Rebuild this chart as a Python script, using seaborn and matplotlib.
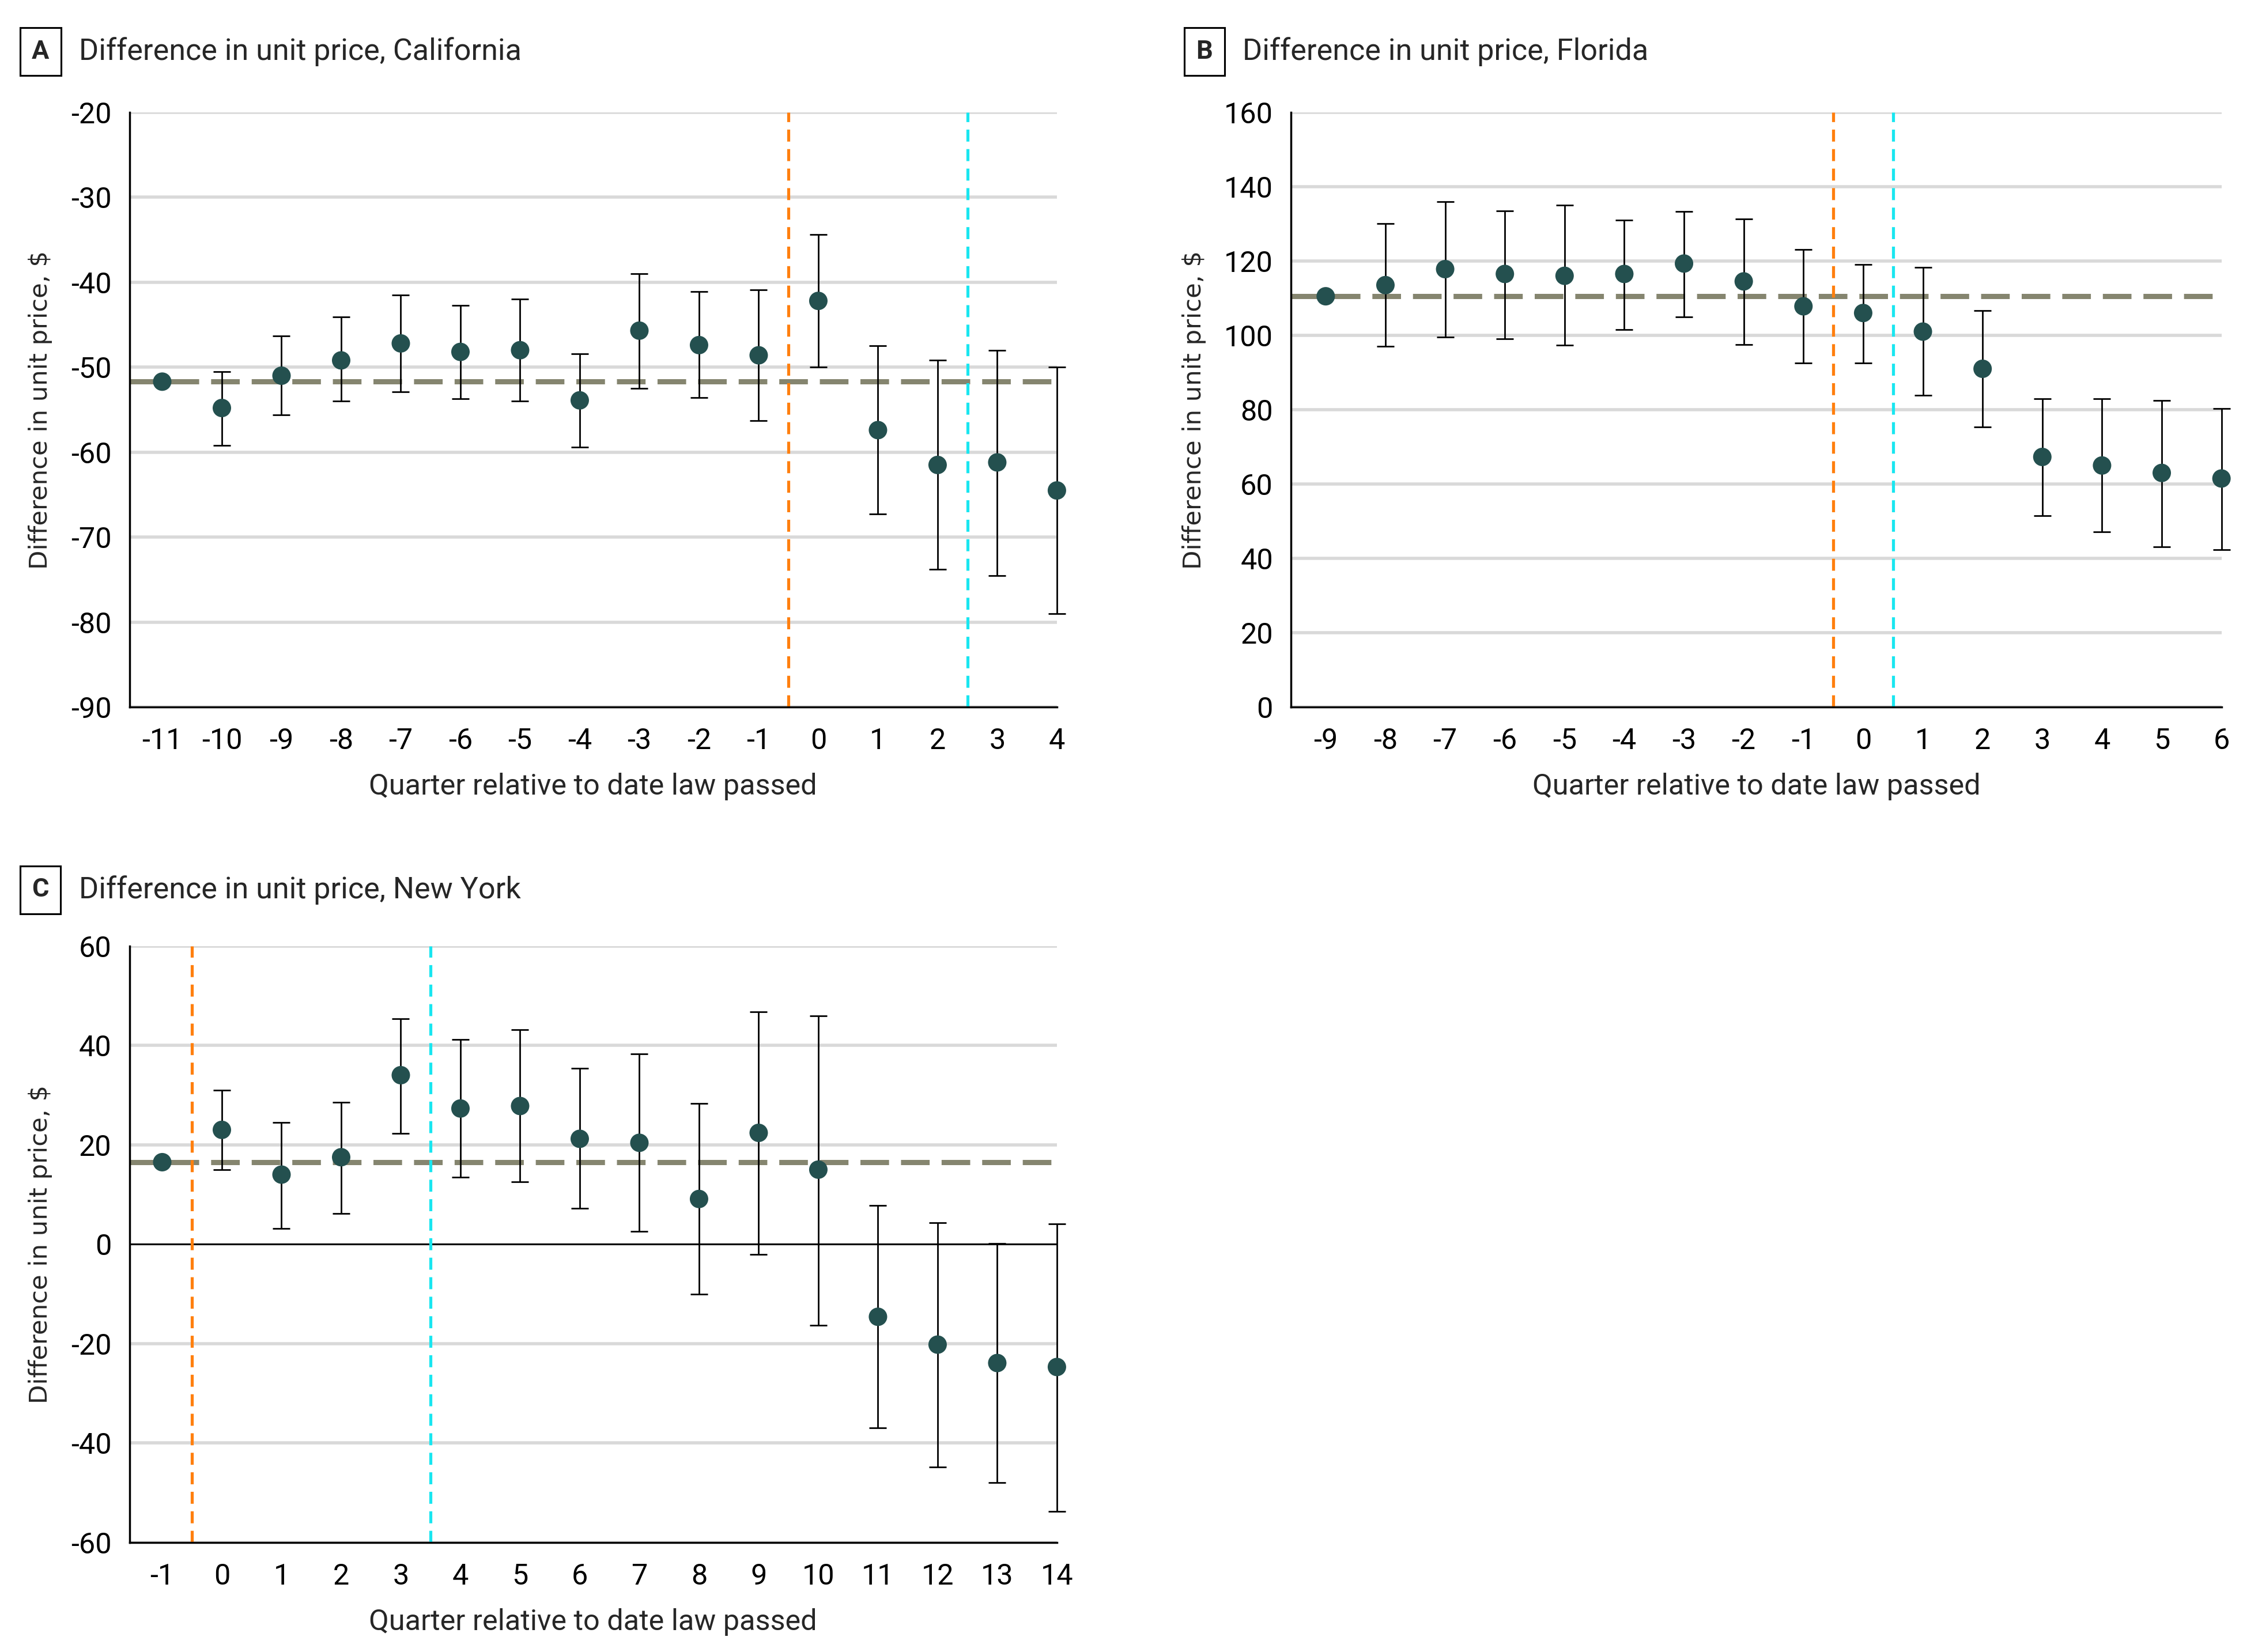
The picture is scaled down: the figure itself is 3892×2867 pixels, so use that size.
"""
Event-study style plots: difference in unit price by quarter relative to law passage.
"""

import numpy as np
import pandas as pd
import matplotlib
matplotlib.use("Agg")
import matplotlib.pyplot as plt
import seaborn as sns

# ---- data ----
ca_quarter = [-11, -10, -9, -8, -7, -6, -5, -4, -3, -2, -1, 0, 1, 2, 3, 4]
ca_estimate = [-51.7, -54.8, -51.0, -49.2, -47.2, -48.2, -48.0, -53.9, -45.7, -47.4, -48.6, -42.2, -57.4, -61.5, -61.2, -64.5]
ca_upper = [np.nan, -50.5, -46.3, -44.1, -41.5, -42.7, -42.0, -48.4, -39.0, -41.1, -40.9, -34.4, -47.5, -49.2, -48.0, -50.0]
ca_lower = [np.nan, -59.2, -55.6, -54.0, -52.9, -53.7, -54.0, -59.4, -52.5, -53.6, -56.3, -50.0, -67.3, -73.8, -74.5, -79.0]
ca_baseline = -51.7

fl_quarter = [-9, -8, -7, -6, -5, -4, -3, -2, -1, 0, 1, 2, 3, 4, 5, 6]
fl_estimate = [110.5, 113.5, 117.8, 116.5, 116.0, 116.5, 119.3, 114.5, 107.8, 106.0, 101.0, 91.0, 67.3, 65.0, 63.0, 61.5]
fl_upper = [np.nan, 130.0, 136.0, 133.5, 135.0, 131.0, 133.3, 131.3, 123.0, 119.0, 118.2, 106.7, 83.0, 83.0, 82.5, 80.3]
fl_lower = [np.nan, 97.0, 99.5, 99.0, 97.3, 101.5, 105.0, 97.5, 92.5, 92.5, 83.8, 75.3, 51.5, 47.2, 43.2, 42.3]
fl_baseline = 110.5

ny_quarter = [-1, 0, 1, 2, 3, 4, 5, 6, 7, 8, 9, 10, 11, 12, 13, 14]
ny_estimate = [16.5, 23.0, 14.0, 17.5, 34.0, 27.3, 27.8, 21.2, 20.4, 9.1, 22.4, 15.0, -14.6, -20.2, -23.9, -24.7]
ny_upper = [np.nan, 31.0, 24.5, 28.6, 45.3, 41.2, 43.2, 35.4, 38.3, 28.3, 46.8, 45.9, 7.8, 4.3, 0.1, 4.1]
ny_lower = [np.nan, 15.0, 3.2, 6.2, 22.3, 13.5, 12.5, 7.2, 2.6, -10.1, -2.0, -16.3, -37.0, -44.8, -48.0, -53.7]
ny_baseline = 16.5

POINT_COLOR = "#24504f"
BASELINE_COLOR = "#85856f"
ORANGE = "#ff7f0e"
CYAN = "#19e6f0"
GRID_COLOR = "#d9d9d9"

sns.set_style("white")
plt.rcParams["font.family"] = ["Roboto", "DejaVu Sans"]
plt.rcParams["axes.unicode_minus"] = False


def draw_panel(ax, quarter, est, lo, hi, baseline, vlines, ylim, yticks, xlim, zero_line=False):
    df = pd.DataFrame({"quarter": quarter, "estimate": est, "lower": lo, "upper": hi})

    ax.set_axisbelow(True)
    for t in yticks:
        if zero_line and t == 0:
            continue
        ax.axhline(t, color=GRID_COLOR, lw=1.6, zorder=0)
    if zero_line:
        ax.axhline(0, color="black", lw=0.9, zorder=1)

    ax.axhline(baseline, color=BASELINE_COLOR, lw=2.6, ls=(0, (5.5, 2.3)), zorder=2)
    ax.axvline(vlines[0], color=ORANGE, lw=1.5, ls=(0, (4, 2.5)), zorder=2)
    ax.axvline(vlines[1], color=CYAN, lw=1.5, ls=(0, (4, 2.5)), zorder=2)

    ci = df.dropna()
    ax.errorbar(ci["quarter"], ci["estimate"],
                yerr=[ci["estimate"] - ci["lower"], ci["upper"] - ci["estimate"]],
                fmt="none", ecolor="black", elinewidth=0.8, capsize=4.2, capthick=0.8,
                zorder=3, clip_on=False)
    sns.scatterplot(data=df, x="quarter", y="estimate", ax=ax, color=POINT_COLOR,
                    s=85, edgecolor="none", zorder=4, clip_on=False, legend=False)

    ax.set_xlim(*xlim)
    ax.set_ylim(*ylim)
    ax.set_yticks(yticks)
    ax.set_xticks(quarter)
    ax.set_xticklabels([str(q) for q in quarter])

    sns.despine(ax=ax)
    for side in ("left", "bottom"):
        ax.spines[side].set_color("black")
        ax.spines[side].set_linewidth(1.0)
    ax.tick_params(axis="both", direction="out", length=5, width=0.9, color="black",
                   labelsize=14.5, labelcolor="black", pad=4)
    ax.tick_params(axis="x", pad=5)

    ax.set_xlabel("Quarter relative to date law passed", fontsize=14.5, labelpad=9)
    ax.set_ylabel("Difference in unit price, $", fontsize=12.5, labelpad=9,
                  fontfamily=["DejaVu Sans"])


def panel_title(fig, x_box, x_text, y, letter, text):
    fig.text(x_box, y, letter, fontsize=13, fontweight="bold", ha="center", va="center",
             bbox=dict(boxstyle="square,pad=0.45", fc="white", ec="black", lw=0.9))
    fig.text(x_text, y, text, fontsize=15, ha="left", va="center")


fig = plt.figure(figsize=(15.568, 11.468), dpi=250)

ax_a = fig.add_axes([0.0577, 0.5719, 0.4135, 0.3602])
ax_b = fig.add_axes([0.5756, 0.5719, 0.4148, 0.3602])
ax_c = fig.add_axes([0.0577, 0.0663, 0.4135, 0.3611])

draw_panel(ax_a, ca_quarter, ca_estimate, ca_lower, ca_upper, ca_baseline,
           vlines=(-0.5, 2.5), ylim=(-90, -20), yticks=list(range(-90, -19, 10)),
           xlim=(-11.55, 4))
draw_panel(ax_b, fl_quarter, fl_estimate, fl_lower, fl_upper, fl_baseline,
           vlines=(-0.5, 0.5), ylim=(0, 160), yticks=list(range(0, 161, 20)),
           xlim=(-9.58, 6))
draw_panel(ax_c, ny_quarter, ny_estimate, ny_lower, ny_upper, ny_baseline,
           vlines=(-0.5, 3.5), ylim=(-60, 60), yticks=list(range(-60, 61, 20)),
           xlim=(-1.55, 14), zero_line=True)

panel_title(fig, 0.0180, 0.0353, 0.9687, "A", "Difference in unit price, California")
panel_title(fig, 0.5370, 0.5539, 0.9687, "B", "Difference in unit price, Florida")
panel_title(fig, 0.0180, 0.0353, 0.4613, "C", "Difference in unit price, New York")

fig.savefig("out.png", dpi=250)
plt.close(fig)
